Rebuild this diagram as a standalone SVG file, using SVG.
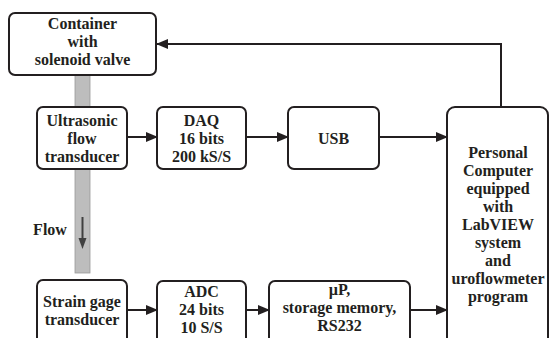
<svg xmlns="http://www.w3.org/2000/svg" width="550" height="338" viewBox="0 0 550 338">
<defs>
<style>
.box{fill:#fff;stroke:#231f20;stroke-width:2}
.t{font-family:"Liberation Serif","Times New Roman",serif;font-weight:bold;font-size:16px;fill:#231f20;text-anchor:middle}
.c{stroke:#231f20;stroke-width:2;fill:none}
</style>
<marker id="ah" markerWidth="12" markerHeight="10" refX="11" refY="5" orient="auto" markerUnits="userSpaceOnUse">
<path d="M0,0 L12,5 L0,10 Z" fill="#231f20"/>
</marker>
</defs>
<rect width="550" height="338" fill="#fff"/>
<g id="pipe">
<rect x="75" y="75" width="15" height="198" fill="#bdbdbd" stroke="#9a9a9a" stroke-width="0.8"/>
</g>
<g id="connectors">
<line class="c" x1="127" y1="137" x2="157" y2="137" marker-end="url(#ah)"/>
<line class="c" x1="246" y1="137" x2="288" y2="137" marker-end="url(#ah)"/>
<line class="c" x1="379" y1="137" x2="447" y2="137" marker-end="url(#ah)"/>
<polyline class="c" points="501,107 501,44 157,44" marker-end="url(#ah)"/>
<line class="c" x1="127" y1="310" x2="157" y2="310" marker-end="url(#ah)"/>
<line class="c" x1="246" y1="310" x2="269" y2="310" marker-end="url(#ah)"/>
<line class="c" x1="410" y1="310" x2="447" y2="310" marker-end="url(#ah)"/>
</g>
<g id="flow">
<line x1="82.5" y1="217" x2="82.5" y2="240" stroke="#404040" stroke-width="2"/>
<path d="M78.5,238 L86.5,238 L82.5,249 Z" fill="#404040"/>
<text class="t" x="50" y="235">Flow</text>
</g>
<g id="container">
<rect class="box" x="9" y="13" width="147" height="62" rx="6"/>
<text class="t" x="82.5" y="29">Container</text>
<text class="t" x="82.5" y="47">with</text>
<text class="t" x="82.5" y="65">solenoid valve</text>
</g>
<g id="ultrasonic">
<rect class="box" x="37" y="107" width="90" height="62" rx="6"/>
<text class="t" x="82" y="126">Ultrasonic</text>
<text class="t" x="82" y="144">flow</text>
<text class="t" x="82" y="162">transducer</text>
</g>
<g id="daq">
<rect class="box" x="157" y="107" width="89" height="62" rx="6"/>
<text class="t" x="201.5" y="126">DAQ</text>
<text class="t" x="201.5" y="144">16 bits</text>
<text class="t" x="201.5" y="162">200 kS/S</text>
</g>
<g id="usb">
<rect class="box" x="288" y="107" width="91" height="62" rx="6"/>
<text class="t" x="333.5" y="144">USB</text>
</g>
<g id="pc">
<rect class="box" x="447" y="107" width="101" height="245" rx="8"/>
<text class="t" x="498" y="158">Personal</text>
<text class="t" x="498" y="176">Computer</text>
<text class="t" x="498" y="194">equipped</text>
<text class="t" x="498" y="212">with</text>
<text class="t" x="498" y="230">LabVIEW</text>
<text class="t" x="498" y="248">system</text>
<text class="t" x="498" y="266">and</text>
<text class="t" x="498" y="284">uroflowmeter</text>
<text class="t" x="498" y="302">program</text>
</g>
<g id="strain">
<rect class="box" x="37" y="280" width="90" height="70" rx="6"/>
<text class="t" x="82" y="307">Strain gage</text>
<text class="t" x="82" y="325">transducer</text>
</g>
<g id="adc">
<rect class="box" x="157" y="281" width="89" height="70" rx="6"/>
<text class="t" x="201.5" y="297">ADC</text>
<text class="t" x="201.5" y="315">24 bits</text>
<text class="t" x="201.5" y="333">10 S/S</text>
</g>
<g id="up">
<rect class="box" x="269" y="281" width="141" height="70" rx="6"/>
<text class="t" x="339.5" y="295">µP,</text>
<text class="t" x="339.5" y="313">storage memory,</text>
<text class="t" x="339.5" y="331">RS232</text>
</g>
</svg>
